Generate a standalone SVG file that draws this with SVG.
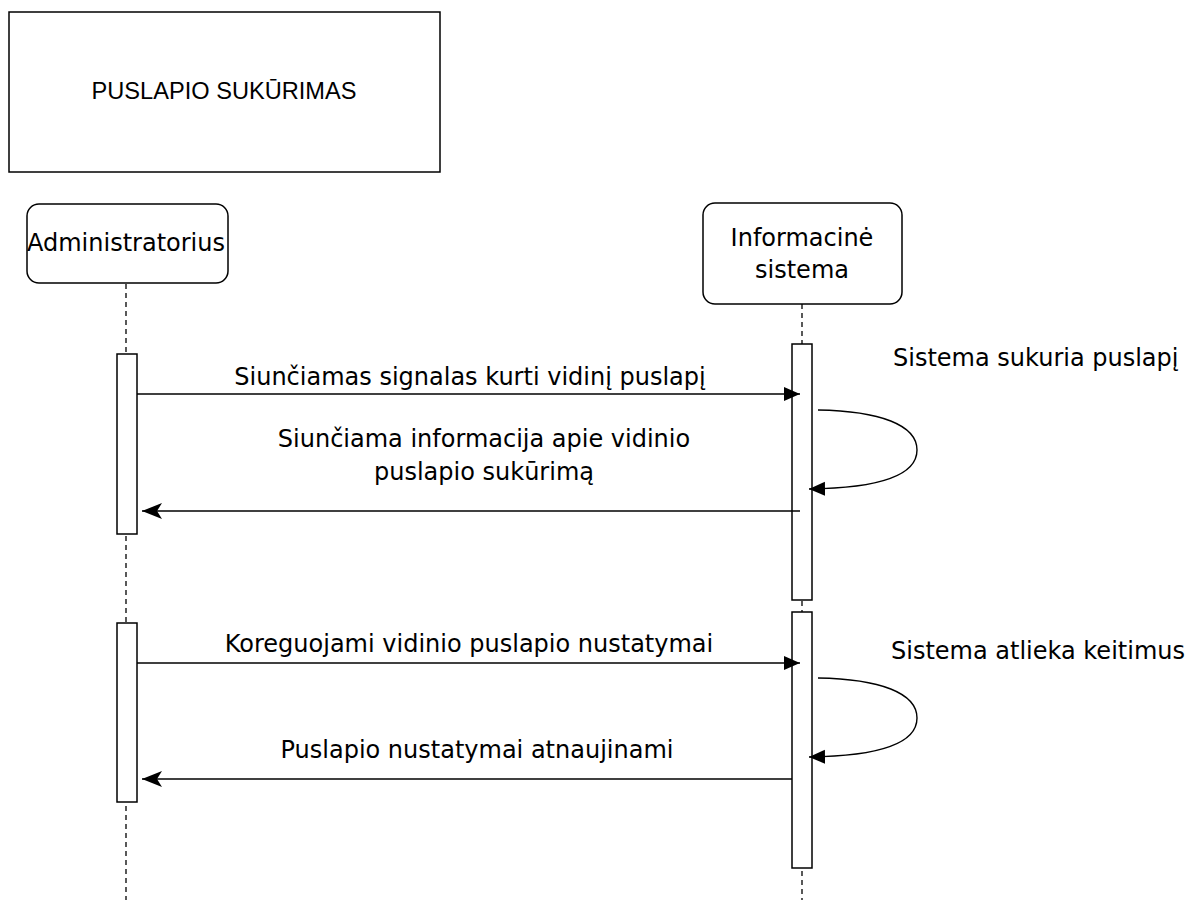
<svg xmlns="http://www.w3.org/2000/svg" width="1189" height="900" viewBox="0 0 1189 900">
  <style>
    .box { fill: #ffffff; stroke: #000000; stroke-width: 1.5; }
    .bar { fill: #ffffff; stroke: #000000; stroke-width: 1.5; }
    .life { fill: none; stroke: #000000; stroke-width: 1.3; stroke-dasharray: 5 4; }
    .msg { fill: none; stroke: #000000; stroke-width: 1.4; }
    .lbl { font-family: "DejaVu Sans", Verdana, sans-serif; font-size: 24px; fill: #000000; }
    .title { font-family: "Liberation Sans", Arial, sans-serif; font-size: 23.6px; fill: #000000; }
  </style>
  <defs>
    <marker id="block" markerUnits="userSpaceOnUse" markerWidth="18" markerHeight="16" refX="16" refY="7" orient="auto">
      <path d="M0,0 L16,7 L0,14 Z" fill="#000000"/>
    </marker>
    <marker id="classic" markerUnits="userSpaceOnUse" markerWidth="22" markerHeight="18" refX="20" refY="8" orient="auto">
      <path d="M0,0 L20,8 L0,16 L5,8 Z" fill="#000000"/>
    </marker>
  </defs>

  <!-- title frame -->
  <g id="title">
    <rect class="box" x="9" y="12" width="431" height="160"/>
    <text class="title" x="224" y="99" text-anchor="middle">PUSLAPIO SUKŪRIMAS</text>
  </g>

  <!-- participant: Administratorius -->
  <g id="admin">
    <line class="life" x1="126" y1="284" x2="126" y2="900"/>
    <rect class="box" x="27" y="204" width="201" height="79" rx="12" ry="12"/>
    <text class="lbl" x="126" y="251" text-anchor="middle">Administratorius</text>
    <rect id="admin-act1" class="bar" x="117" y="354" width="20" height="180"/>
    <rect id="admin-act2" class="bar" x="117" y="623" width="20" height="179"/>
  </g>

  <!-- participant: Informacinė sistema -->
  <g id="system">
    <line class="life" x1="802" y1="304" x2="802" y2="900"/>
    <rect class="box" x="703" y="203" width="199" height="101" rx="12" ry="12"/>
    <text class="lbl" x="802" y="246" text-anchor="middle">Informacinė</text>
    <text class="lbl" x="802" y="278" text-anchor="middle">sistema</text>
    <rect id="sys-act1" class="bar" x="792" y="344" width="20" height="256"/>
    <rect id="sys-act2" class="bar" x="792" y="612" width="20" height="256"/>
  </g>

  <!-- messages -->
  <g id="connectors">
    <line class="msg" x1="137" y1="394" x2="800" y2="394" marker-end="url(#block)"/>
    <path class="msg" d="M818,410 C880,411 917,425 917,450 C917,475 880,488 809,489" marker-end="url(#block)"/>
    <line class="msg" x1="800" y1="511" x2="142" y2="511" marker-end="url(#classic)"/>

    <line class="msg" x1="137" y1="663" x2="800" y2="663" marker-end="url(#block)"/>
    <path class="msg" d="M818,678 C880,679 917,693 917,718 C917,743 880,756 809,757" marker-end="url(#block)"/>
    <line class="msg" x1="792" y1="779" x2="142" y2="779" marker-end="url(#classic)"/>
  </g>

  <!-- message labels -->
  <g id="labels">
    <text class="lbl" x="470" y="385" text-anchor="middle">Siunčiamas signalas kurti vidinį puslapį</text>
    <text class="lbl" x="484" y="447" text-anchor="middle">Siunčiama informacija apie vidinio</text>
    <text class="lbl" x="484" y="480" text-anchor="middle">puslapio sukūrimą</text>
    <text class="lbl" x="893" y="366">Sistema sukuria puslapį</text>
    <text class="lbl" x="469" y="652" text-anchor="middle">Koreguojami vidinio puslapio nustatymai</text>
    <text class="lbl" x="891" y="659">Sistema atlieka keitimus</text>
    <text class="lbl" x="477" y="758" text-anchor="middle">Puslapio nustatymai atnaujinami</text>
  </g>
</svg>
